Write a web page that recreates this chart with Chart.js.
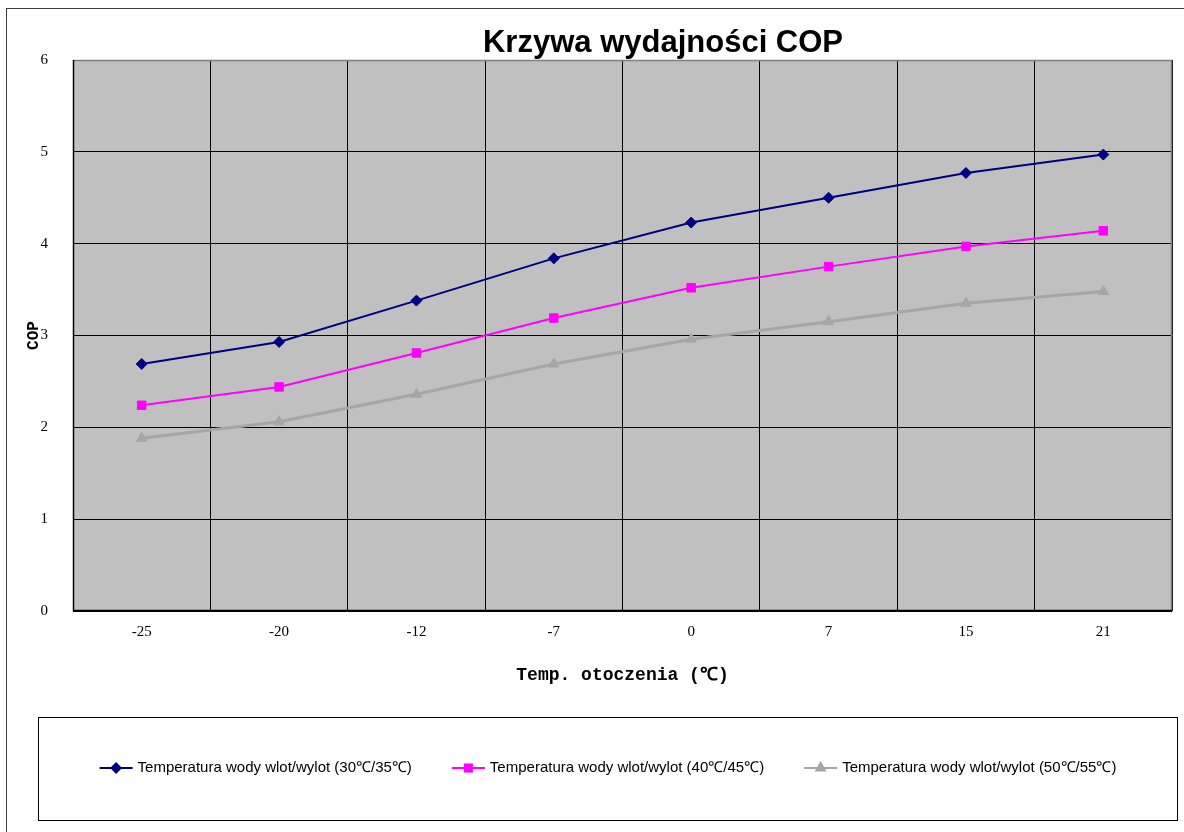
<!DOCTYPE html>
<html>
<head>
<meta charset="utf-8">
<script src="https://cdn.jsdelivr.net/npm/chart.js@4/dist/chart.umd.min.js"></script>
<style>
  body { margin: 0; background: #fff; }
  canvas { display: block; }
</style>
</head>
<body>
<canvas id="chart" width="1184" height="832"></canvas>
<script>
// data
const temps = ['-25', '-20', '-12', '-7', '0', '7', '15', '21'];
const cop3035 = [2.69, 2.93, 3.38, 3.84, 4.23, 4.50, 4.77, 4.97];
const cop4045 = [2.24, 2.44, 2.81, 3.19, 3.52, 3.75, 3.97, 4.14];
const cop5055 = [1.88, 2.06, 2.36, 2.69, 2.96, 3.15, 3.35, 3.48];
const yTicks = [0, 1, 2, 3, 4, 5, 6];

const seriesNames = [
    'Temperatura wody wlot/wylot (30℃/35℃)',
    'Temperatura wody wlot/wylot (40℃/45℃)',
    'Temperatura wody wlot/wylot (50℃/55℃)'
];

// plot background, frame, title and boxed legend
const decor = {
    id: 'decor',
    beforeDraw(chart) {
        const { ctx, chartArea: a } = chart;
        ctx.save();
        ctx.fillStyle = '#fff';
        ctx.fillRect(0, 0, chart.width, chart.height);
        ctx.strokeStyle = '#404040';
        ctx.lineWidth = 1;
        ctx.strokeRect(6.5, 8.5, 1200, 900);
        ctx.fillStyle = '#c0c0c0';
        ctx.fillRect(a.left, a.top, a.right - a.left, a.bottom - a.top);
        ctx.restore();
    },
    afterDatasetsDraw(chart) {
        const { ctx, chartArea: a } = chart;
        ctx.save();
        ctx.strokeStyle = '#808080';
        ctx.lineWidth = 1.5;
        ctx.beginPath();
        ctx.moveTo(a.left, a.top + 0.5);
        ctx.lineTo(a.right - 0.5, a.top + 0.5);
        ctx.lineTo(a.right - 0.5, a.bottom);
        ctx.stroke();
        ctx.strokeStyle = '#000';
        ctx.lineWidth = 1.5;
        ctx.beginPath();
        ctx.moveTo(a.left + 0.5, a.top);
        ctx.lineTo(a.left + 0.5, a.bottom - 0.5);
        ctx.lineTo(a.right, a.bottom - 0.5);
        ctx.stroke();

        // title
        ctx.fillStyle = '#000';
        ctx.font = 'bold 31px "Liberation Sans", Arial, sans-serif';
        ctx.textAlign = 'center';
        ctx.textBaseline = 'alphabetic';
        ctx.fillText('Krzywa wydajności COP', 663, 52);

        // legend box
        const box = { x: 38.5, y: 717.5, w: 1139, h: 103 };
        ctx.strokeStyle = '#000';
        ctx.lineWidth = 1;
        ctx.strokeRect(box.x, box.y, box.w, box.h);
        ctx.font = '15px "Liberation Sans", Arial, sans-serif';
        ctx.textAlign = 'left';
        ctx.textBaseline = 'middle';
        const sets = chart.data.datasets;
        const widths = sets.map(d => 38 + ctx.measureText(d.label).width);
        const total = widths.reduce((s, w) => s + w, 0) + 40 * (sets.length - 1);
        let x = box.x + box.w / 2 - total / 2;
        const y = 768;
        sets.forEach((d, i) => {
            ctx.strokeStyle = d.borderColor;
            ctx.lineWidth = 2;
            ctx.beginPath();
            ctx.moveTo(x, y);
            ctx.lineTo(x + 33, y);
            ctx.stroke();
            ctx.fillStyle = d.pointBackgroundColor;
            ctx.strokeStyle = d.pointBorderColor;
            Chart.helpers.drawPoint(ctx, {
                pointStyle: d.pointStyle, radius: d.pointRadius - 1, borderWidth: 1
            }, x + 16.5, y);
            ctx.fillStyle = '#000';
            ctx.fillText(d.label, x + 38, y);
            x += widths[i] + 40;
        });
        ctx.restore();
    }
};

function series(label, data, color, style, radius, width) {
    return {
        label, data,
        borderColor: color, borderWidth: width,
        pointStyle: style, pointRadius: radius, pointHoverRadius: radius,
        pointBackgroundColor: color, pointBorderColor: color, pointBorderWidth: 1,
        tension: 0, fill: false
    };
}

new Chart(document.getElementById('chart'), {
    type: 'line',
    data: {
        labels: temps,
        datasets: [
            series(seriesNames[0], cop3035, '#000080', 'rectRot', 5.5, 2),
            series(seriesNames[1], cop4045, '#ff00ff', 'rect', 6, 2),
            series(seriesNames[2], cop5055, '#a6a6a6', 'triangle', 6, 3)
        ]
    },
    options: {
        responsive: false,
        animation: false,
        layout: { padding: { left: 20, top: 60, right: 12, bottom: 141 } },
        plugins: { legend: { display: false }, title: { display: false }, tooltip: { enabled: false } },
        scales: {
            x: {
                offset: true,
                grid: { color: '#000', lineWidth: 1, offset: true, drawTicks: false },
                border: { display: false },
                ticks: { color: '#000', padding: 12, font: { family: '"Liberation Serif", serif', size: 15 } },
                title: {
                    display: true, text: 'Temp. otoczenia (℃)', color: '#000',
                    padding: { top: 0, bottom: 5 },
                    font: { family: '"Liberation Mono", monospace', size: 18, weight: 'bold' }
                },
                afterFit(s) { s.height = 80; }
            },
            y: {
                min: 0, max: 6,
                afterBuildTicks(s) { s.ticks = yTicks.map(v => ({ value: v })); },
                grid: { color: '#000', lineWidth: 1, drawTicks: false },
                border: { display: false },
                ticks: { color: '#000', padding: 25, font: { family: '"Liberation Serif", serif', size: 15 } },
                title: {
                    display: true, text: 'COP', color: '#000',
                    padding: { top: 4, bottom: 0 },
                    font: { family: '"Liberation Mono", monospace', size: 16, weight: 'bold' }
                },
                afterFit(s) { s.width = 53; }
            }
        }
    },
    plugins: [decor]
});
</script>
</body>
</html>
